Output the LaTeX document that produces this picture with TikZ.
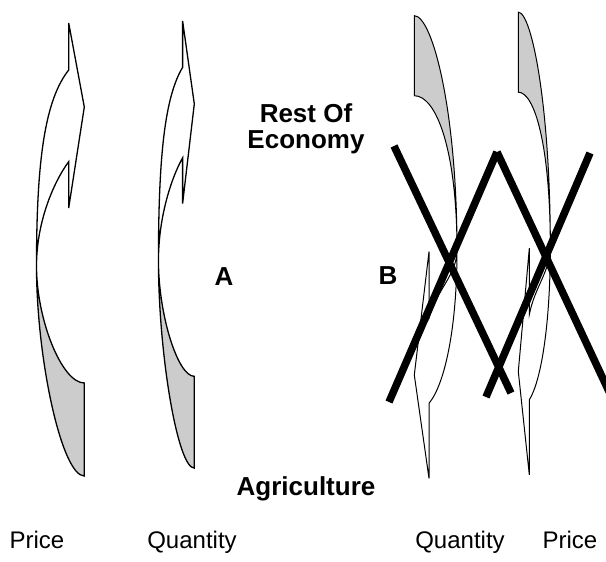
\documentclass[tikz,border=0pt]{standalone}
\usepackage{fontspec}
\setmainfont{Liberation Sans}

% ribbon arrow bending up (origin on the straight edge)
\newcommand{\riseflow}{%
  \filldraw[backface] (-47.8,266) .. controls (-47.8,360) and (-22.3,476) .. (0,476)
    -- (0,383) .. controls (-22.3,383) and (-47.8,320) .. cycle;
  \draw[flow] (-47.8,266) .. controls (-47.8,160) and (-39.3,100) .. (-15.6,70)
    -- (-15.6,23) -- (0,107) -- (-15.6,208) -- (-15.6,161.7)
    .. controls (-29.3,180) and (-47.8,220) .. (-47.8,266);
}
% ribbon arrow bending down (origin on the straight edge)
\newcommand{\dropflow}{%
  \filldraw[backface] (0,15.7) .. controls (18,15.7) and (42.7,110) .. (42.7,250)
    .. controls (42.7,150) and (22,95.7) .. (0,95.7) -- cycle;
  \draw[flow] (42.7,250) .. controls (42.7,330) and (30,385) .. (14.7,403.3)
    -- (14.7,478.3) -- (0,375) -- (14.7,251.7) -- (14.7,318)
    .. controls (22,290) and (42.7,275) .. (42.7,250);
}

\begin{document}
\begin{tikzpicture}[x=1pt, y=-1pt,
  every node/.style={font=\fontsize{24}{28}\selectfont, inner sep=0pt},
  boldtext/.style={font=\fontsize{26}{26}\selectfont\bfseries, align=center},
  flow/.style={line join=miter},
  backface/.style={flow, fill=black!20},
  xbar/.style={line width=7.5pt}]

\useasboundingbox (0,0) rectangle (606,562);

% LEFT PAIR
\begin{scope}[line width=1.3pt]
  \begin{scope}[shift={(84.3,0)}]
    \riseflow
  \end{scope}
  \begin{scope}[shift={(194.3,-1.7)}, xscale=0.75, yscale=0.987]
    \riseflow
  \end{scope}
\end{scope}

% RIGHT PAIR
\begin{scope}[line width=1pt]
  \begin{scope}[shift={(414.3,0)}]
    \dropflow
  \end{scope}
  \begin{scope}[shift={(518.3,-3.5)}, xscale=0.75]
    \dropflow
  \end{scope}
\end{scope}

% crossing out
\coordinate (xa1) at (394,146);
\coordinate (xa2) at (511,393);
\coordinate (xb1) at (389,402);
\coordinate (xb2) at (497,152);
\coordinate (xc1) at (497,152);
\coordinate (xc2) at (612,398);
\coordinate (xd1) at (486,397);
\coordinate (xd2) at (590,153);
\draw[xbar] (xa1) -- (xa2);
\draw[xbar] (xb1) -- (xb2);
\draw[xbar] (xc1) -- (xc2);
\draw[xbar] (xd1) -- (xd2);

% labels
\node[boldtext, anchor=north] (rest) at (306,103) {Rest Of\\Economy};
\node[boldtext, anchor=base] (agri) at (306,495) {Agriculture};
\node[boldtext, anchor=base] (lblA) at (224,285) {A};
\node[boldtext, anchor=base] (lblB) at (388,284) {B};

\node[anchor=base] (price1) at (37,548) {Price};
\node[anchor=base] (qty1) at (192,548) {Quantity};
\node[anchor=base] (qty2) at (460,548) {Quantity};
\node[anchor=base] (price2) at (570,548) {Price};

\end{tikzpicture}
\end{document}
